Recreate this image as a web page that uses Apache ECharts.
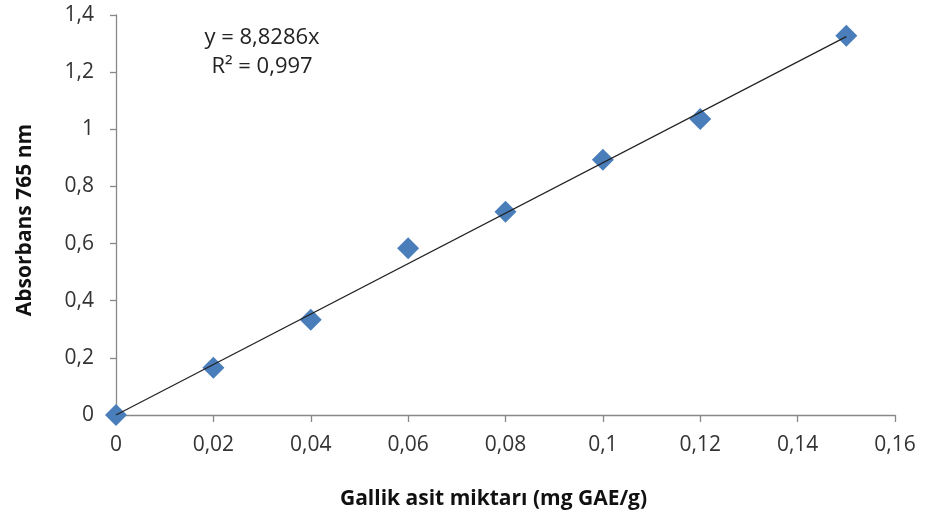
<!DOCTYPE html>
<html><head><meta charset="utf-8">
<script src="https://cdn.jsdelivr.net/npm/echarts@6/dist/echarts.min.js"></script>
<style>html,body{margin:0;padding:0;background:#fff}#c{width:926px;height:521px}</style>
</head><body><div id="c"></div>
<script>
const xValues = [0, 0.02, 0.04, 0.06, 0.08, 0.1, 0.12, 0.15];
const yValues = [0.0, 0.165, 0.333, 0.584, 0.711, 0.893, 1.036, 1.327];
const slope = 8.8286;
const trendX = [0, 0.15];
const equationText = ['y = 8,8286x', 'R² = 0,997'];
const xTitle = 'Gallik asit miktarı (mg GAE/g)';
const yTitle = 'Absorbans 765 nm';

const fmt = v => String(+v.toFixed(2)).replace('.', ',');
const chart = echarts.init(document.getElementById('c'));
const font = '"Open Sans", "Liberation Sans", sans-serif';
chart.setOption({
  animation: false,
  grid: {left: 116, right: 31, top: 15, bottom: 106},
  xAxis: {
    type: 'value', min: 0, max: 0.16, interval: 0.02,
    axisLine: {show: true, lineStyle: {color: '#888', width: 1.3}},
    axisTick: {show: true, inside: false, length: 7, lineStyle: {color: '#888', width: 1.3}},
    splitLine: {show: false},
    axisLabel: {formatter: fmt, color: '#333', fontSize: 21, fontFamily: font, margin: 20},
    name: xTitle, nameLocation: 'middle', nameGap: 74,
    nameTextStyle: {fontSize: 21, fontWeight: 'bold', color: '#111', fontFamily: font, padding: [0, 24, 0, 0]}
  },
  yAxis: {
    type: 'value', min: 0, max: 1.4, interval: 0.2,
    axisLine: {show: true, lineStyle: {color: '#888', width: 1.3}},
    axisTick: {show: true, inside: false, length: 6, lineStyle: {color: '#888', width: 1.3}},
    splitLine: {show: false},
    axisLabel: {formatter: fmt, color: '#333', fontSize: 21, fontFamily: font, margin: 22},
    name: yTitle, nameLocation: 'middle', nameGap: 80,
    nameTextStyle: {fontSize: 21, fontWeight: 'bold', color: '#111', fontFamily: font, padding: [0, 10, 0, 0]}
  },
  series: [
    {
      type: 'scatter', symbol: 'diamond', symbolSize: 22,
      itemStyle: {color: '#4A7EBB', opacity: 1},
      data: xValues.map((x, i) => [x, yValues[i]]), z: 2
    },
    {
      type: 'line', symbol: 'none', z: 3,
      lineStyle: {color: '#222', width: 1.2},
      data: trendX.map(x => [x, slope * x])
    }
  ],
  graphic: [
    {type: 'text', x: 262, y: 38, style: {text: equationText[0], fill: '#222', font: '22px ' + font, textAlign: 'center', textVerticalAlign: 'middle'}},
    {type: 'text', x: 262, y: 67, style: {text: equationText[1], fill: '#222', font: '22px ' + font, textAlign: 'center', textVerticalAlign: 'middle'}}
  ]
});
</script></body></html>
